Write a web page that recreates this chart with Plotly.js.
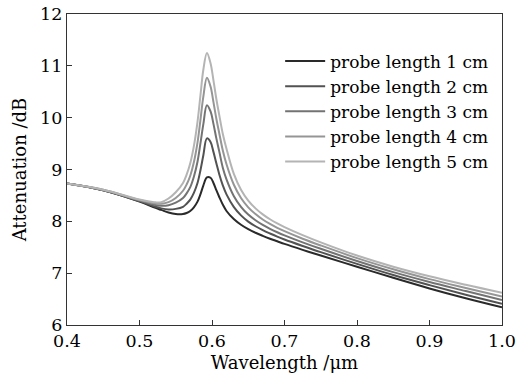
<!DOCTYPE html>
<html>
<head>
<meta charset="utf-8">
<script src="https://cdn.plot.ly/plotly-3.0.1.min.js"></script>
<style>html,body{margin:0;padding:0;background:#fff;}#chart{width:532px;height:382px;}</style>
</head>
<body>
<div id="chart"></div>
<script>
const wavelength = [0.40,0.45,0.50,0.52,0.53,0.54,0.55,0.56,0.565,0.57,0.575,0.58,0.584,0.588,0.593,0.598,0.602,0.606,0.61,0.615,0.62,0.63,0.64,0.65,0.66,0.67,0.68,0.69,0.70,0.725,0.75,0.80,0.85,0.90,0.95,1.00];

const len1cm = [8.73,8.60,8.38,8.27,8.22,8.17,8.14,8.14,8.16,8.20,8.27,8.38,8.52,8.69,8.85,8.84,8.74,8.60,8.47,8.32,8.20,8.045,7.935,7.85,7.78,7.72,7.665,7.615,7.565,7.45,7.34,7.125,6.91,6.705,6.515,6.34];
const len2cm = [8.73,8.60,8.39,8.29,8.25,8.23,8.24,8.28,8.34,8.42,8.55,8.74,8.98,9.27,9.60,9.53,9.34,9.12,8.91,8.69,8.52,8.28,8.115,7.995,7.905,7.83,7.765,7.705,7.65,7.525,7.405,7.18,6.965,6.77,6.585,6.41];
const len3cm = [8.73,8.60,8.40,8.32,8.30,8.31,8.36,8.45,8.54,8.66,8.86,9.15,9.50,9.87,10.24,10.12,9.88,9.60,9.35,9.03,8.81,8.49,8.28,8.13,8.02,7.93,7.855,7.79,7.73,7.595,7.47,7.235,7.02,6.83,6.655,6.48];
const len4cm = [8.73,8.61,8.41,8.35,8.34,8.37,8.45,8.59,8.71,8.88,9.14,9.52,9.95,10.40,10.77,10.60,10.30,9.98,9.70,9.36,9.10,8.71,8.45,8.27,8.14,8.035,7.95,7.875,7.81,7.665,7.535,7.29,7.075,6.885,6.715,6.55];
const len5cm = [8.73,8.61,8.42,8.37,8.37,8.44,8.56,8.74,8.90,9.12,9.45,9.92,10.42,10.92,11.25,11.05,10.72,10.36,10.05,9.68,9.40,8.92,8.61,8.40,8.25,8.135,8.04,7.96,7.89,7.735,7.595,7.34,7.125,6.94,6.775,6.62];

const seriesNames = ["probe length 1 cm","probe length 2 cm","probe length 3 cm","probe length 4 cm","probe length 5 cm"];
const seriesData = [len1cm, len2cm, len3cm, len4cm, len5cm];
const colors = ["#2a2a2a","#525252","#737373","#959595","#b4b4b4"];

const xTicks = [0.4,0.5,0.6,0.7,0.8,0.9,1.0];
const xTickText = ["0.4","0.5","0.6","0.7","0.8","0.9","1.0"];
const yTicks = [6,7,8,9,10,11,12];

const font = "DejaVu Serif, Liberation Serif, serif";

const traces = seriesData.map((ys, i) => ({
  x: wavelength, y: ys, type: "scatter", mode: "lines",
  name: seriesNames[i],
  line: {color: colors[i], width: 2, shape: "spline", smoothing: 1}
}));

const axisCommon = {
  showgrid: false, zeroline: false, showline: true, mirror: true,
  linecolor: "#333", linewidth: 1.2, ticks: "inside", ticklen: 5,
  tickcolor: "#333", tickwidth: 1, tickfont: {family: font, size: 17.5, color: "#000"}
};

const layout = {
  width: 532, height: 382,
  margin: {l: 67, r: 30, t: 14, b: 57},
  paper_bgcolor: "#fff", plot_bgcolor: "#fff",
  showlegend: true,
  legend: {x: 0.49, y: 0.905, xanchor: "left", yanchor: "top",
    bgcolor: "rgba(0,0,0,0)", font: {family: font, size: 17, color: "#000"},
    itemwidth: 40, tracegroupgap: 0},
  xaxis: Object.assign({}, axisCommon, {
    range: [0.4, 1.0], tickvals: xTicks, ticktext: xTickText,
    title: {text: "Wavelength /μm", font: {family: font, size: 18, color: "#000"}, standoff: 6}
  }),
  yaxis: Object.assign({}, axisCommon, {
    range: [6, 12], tickvals: yTicks,
    title: {text: "Attenuation /dB", font: {family: font, size: 18, color: "#000"}, standoff: 8}
  })
};

Plotly.newPlot("chart", traces, layout, {displayModeBar: false, staticPlot: true});
</script>
</body>
</html>
